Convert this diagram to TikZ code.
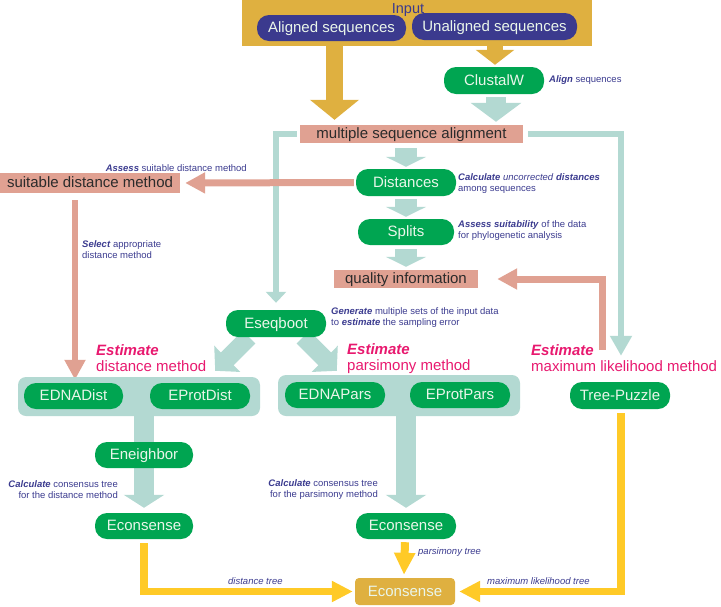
\documentclass[tikz,border=0pt]{standalone}
\usepackage{fontspec}
\setmainfont{Liberation Sans}
\usetikzlibrary{arrows.meta,calc}
\definecolor{cgold}{HTML}{DFB040}
\definecolor{cblue}{HTML}{3B3A8E}
\definecolor{cgreen}{HTML}{00A551}
\definecolor{cteal}{HTML}{B3D9D2}
\definecolor{csalmon}{HTML}{E0A192}
\definecolor{cyellow}{HTML}{FFCA27}
\definecolor{cann}{HTML}{3B3B8F}
\definecolor{cmag}{HTML}{E8196F}
\definecolor{cpill}{HTML}{EAF6EA}
\definecolor{cdark}{HTML}{2B2B2B}
\newcommand\myfs[1]{\fontsize{#1}{#1}\selectfont}
\pgfdeclarelayer{background}
\pgfsetlayers{background,main}
\begin{document}
\begin{tikzpicture}[x=1pt,y=-1pt,
  pill/.style={fill=cgreen, text=cpill, rounded corners=12pt, minimum width=100pt, minimum height=27pt, inner sep=0pt, text height=11pt, text depth=1.5pt, font=\myfs{15}},
  bluepill/.style={pill, fill=cblue},
  sbox/.style={fill=csalmon, text=cdark, inner sep=0pt, text height=11pt, text depth=1.5pt, font=\myfs{15}},
  group/.style={fill=cteal, rounded corners=8pt, inner sep=0pt},
  ann/.style={text=cann, font=\fontsize{9.5}{11}\selectfont, align=left, inner sep=0pt, anchor=west},
  annr/.style={text=cann, font=\fontsize{9.5}{11}\selectfont, align=right, inner sep=0pt, anchor=east},
  est/.style={text=cmag, font=\fontsize{15}{16}\selectfont, align=left, inner sep=0pt, anchor=west},
  arr/.style n args={4}{draw=#1, line width=#2, -{Triangle[length=#3,width=#4]}},
  tline/.style={draw=cteal, line width=6pt},
  sline/.style={draw=csalmon, line width=7pt, -{Triangle[length=20pt,width=20pt]}},
  yline/.style={draw=cyellow, line width=7.5pt, -{Triangle[length=21pt,width=20pt]}}
]
\useasboundingbox (0,0) rectangle (721,606);

% top
\node[fill=cgold, minimum width=350pt, minimum height=46pt, inner sep=0pt] (input) at (417,23) {};
\node[text=cblue, font=\myfs{14.5}, inner sep=0pt, text height=10.5pt, text depth=0pt] (inputlbl) at (408,8.5) {Input};
\node[bluepill, minimum width=149pt, minimum height=26pt] (aligned) at (331.5,28) {Aligned sequences};
\node[bluepill, minimum width=165pt] (unaligned) at (494.5,26.5) {Unaligned sequences};
\node[pill] (clustal) at (494,80.5) {ClustalW};
\node[sbox, minimum width=223pt, minimum height=18pt] (msa) at (411.5,134) {multiple sequence alignment};
\node[pill] (distances) at (406,182.5) {Distances};
\node[pill, minimum width=96pt, minimum height=26pt] (splits) at (406,232) {Splits};
\node[sbox, minimum width=144pt, minimum height=18pt] (quality) at (406,279) {quality information};
\node[sbox, minimum width=180pt, minimum height=20pt] (sdm) at (90,183) {suitable distance method};
\node[pill] (eseqboot) at (276,323.5) {Eseqboot};

% groups
\node[group, minimum width=242pt, minimum height=39pt] (distgroup) at (139,396.5) {};
\node[group, minimum width=242pt, minimum height=41pt] (parsgroup) at (399,395.5) {};
\node[pill, minimum width=99pt, minimum height=26pt] (ednadist) at (73.5,396) {EDNADist};
\node[pill, minimum height=26pt] (eprotdist) at (200,396) {EProtDist};
\node[pill, minimum height=26pt] (ednapars) at (335,395) {EDNAPars};
\node[pill, minimum height=26pt] (eprotpars) at (460,395) {EProtPars};
\node[pill, minimum height=27pt] (treepuzzle) at (620,395.5) {Tree-Puzzle};
\node[pill, minimum width=98pt, minimum height=26pt] (eneighbor) at (144,455) {Eneighbor};
\node[pill, minimum width=98pt, minimum height=26pt] (econs1) at (144,526) {Econsense};
\node[pill, minimum height=26pt] (econs2) at (406,526) {Econsense};
\node[fill=cgold, text=cpill, rounded corners=4pt, minimum width=100pt, minimum height=27pt, inner sep=0pt, text height=11pt, text depth=1.5pt, font=\myfs{15}] (final) at (405,591.5) {Econsense};

% annotations
\node[ann] (a1) at (549,80) {\textbf{\textit{Align}} sequences};
\node[annr] (a2) at (247,168) {\textbf{\textit{Assess}} suitable distance method};
\node[ann] (a3) at (458,183.5) {\textbf{\textit{Calculate}} \textit{uncorrected} \textbf{\textit{distances}}\\among sequences};
\node[ann] (a4) at (458,231) {\textbf{\textit{Assess suitability}} of the data\\for phylogenetic analysis};
\node[ann] (a5) at (82,249.5) {\textbf{\textit{Select}} appropriate\\distance method};
\node[ann] (a6) at (331,317.5) {\textbf{\textit{Generate}} multiple sets of the input data\\to \textbf{\textit{estimate}} the sampling error};
\node[annr] (a7) at (118,489.5) {\textbf{\textit{Calculate}} consensus tree\\for the distance method};
\node[annr] (a8) at (378,489.5) {\textbf{\textit{Calculate}} consensus tree\\for the parsimony method};
\node[ann] (a9) at (418,552) {\textit{parsimony tree}};
\node[ann] (a10) at (228,581) {\textit{distance tree}};
\node[ann] (a11) at (487,581) {\textit{maximum likelihood tree}};
\node[est] (e1) at (96,358.5) {\textbf{\textit{Estimate}}\\distance method};
\node[est] (e2) at (347,358.5) {\textbf{\textit{Estimate}}\\parsimony method};
\node[est] (e3) at (531,358.5) {\textbf{\textit{Estimate}}\\maximum likelihood method};

\coordinate (mlstart) at (602,350);

\begin{pgfonlayer}{background}
% gold
\draw[arr={cgold}{17pt}{20pt}{48pt}] ($(input.south -| aligned.south)+(3,-1)$) -- ($(msa.north -| aligned.south)+(3,-5)$);
\draw[arr={cgold}{16pt}{15pt}{38pt}] ($(input.south -| clustal.north)+(1,-1)$) -- ($(clustal.north)+(1,-2)$);
% teal fat
\draw[arr={cteal}{20pt}{19pt}{50pt}] ($(clustal.south)+(2,3)$) -- ($(clustal.south |- msa.north)+(2,-3)$);
\draw[arr={cteal}{22pt}{10pt}{40pt}] ($(msa.south -| distances.north)+(0,5)$) -- ($(distances.north)+(0,-2)$);
\draw[arr={cteal}{22pt}{10pt}{40pt}] ($(distances.south)+(0,3)$) -- ($(splits.north)+(0,-2)$);
\draw[arr={cteal}{22pt}{10pt}{40pt}] ($(splits.south)+(0,4)$) -- ($(splits.south |- quality.north)+(0,-3)$);
% teal lines
\draw[tline, -{Triangle[length=11pt,width=20pt]}, shorten <=3pt, shorten >=7pt] (msa.west) -| (eseqboot.north);
\draw[tline, -{Triangle[length=20pt,width=21pt]}, shorten <=5pt, shorten >=26pt] (msa.east) -| ($(treepuzzle.north)+(1,0)$);
% salmon
\draw[sline, shorten >=19pt] (mlstart) |- (quality.east);
\draw[sline, shorten <=2pt, shorten >=5pt] (distances.west) -- (sdm.east);
\draw[sline, line width=6pt] ($(ednadist.north |- sdm.south)+(1.5,7)$) -- ($(ednadist.north)+(1.5,-3)$);
% diagonal
\draw[arr={cteal}{18pt}{17pt}{36pt}] ($(eseqboot.south)+(-27,0)$) -- ($(distgroup.north east)+(-45,-6)$);
\draw[arr={cteal}{18pt}{17pt}{36pt}] ($(eseqboot.south)+(27,0)$) -- ($(parsgroup.north west)+(59,-4)$);
% lower teal
\draw[draw=cteal, line width=20pt] (distgroup.south -| eneighbor.north) -- (eneighbor.north);
\draw[arr={cteal}{20pt}{13pt}{40pt}] (eneighbor.south) -- ($(econs1.north)+(0,-5)$);
\draw[arr={cteal}{20pt}{13pt}{40pt}] (parsgroup.south -| econs2.north) -- ($(econs2.north)+(0,-5)$);
% yellow
\draw[arr={cyellow}{8pt}{22pt}{20pt}] ($(econs2.south)+(-1,3)$) -- ($(final.north)+(-1,-3)$);
\draw[yline, shorten >=2pt] ($(econs1.south)+(0,4)$) |- (final.west);
\draw[yline, shorten >=4pt] ($(treepuzzle.south)+(1,4)$) |- (final.east);
\end{pgfonlayer}
\end{tikzpicture}
\end{document}
